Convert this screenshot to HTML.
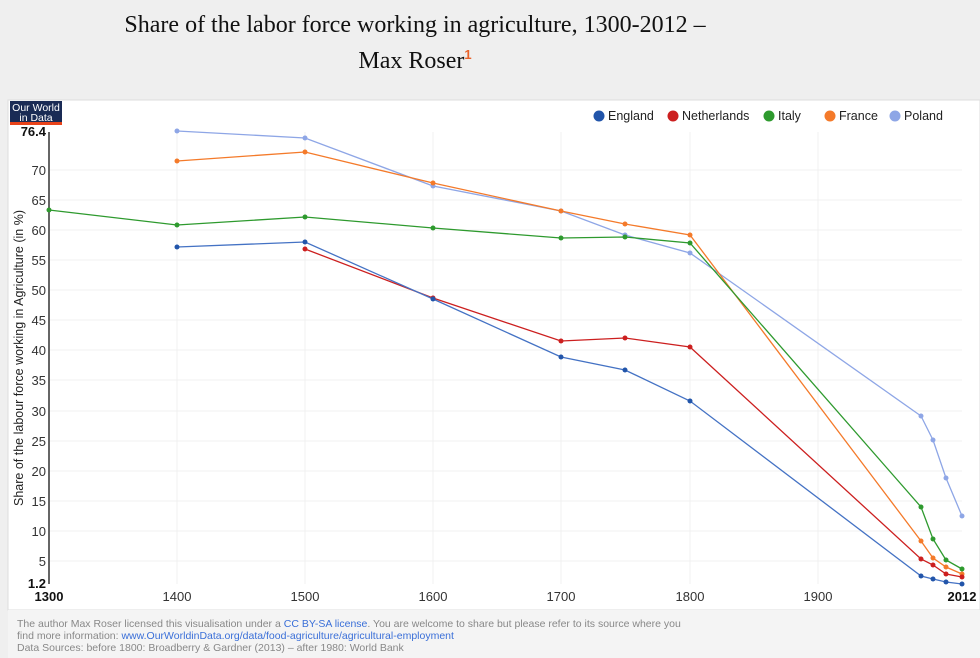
<!DOCTYPE html>
<html><head><meta charset="utf-8"><style>
body{margin:0;width:980px;height:658px;background:#efefef;font-family:"Liberation Sans",sans-serif;overflow:hidden;position:relative}
.t{position:absolute;top:11px;left:0;width:830px;text-align:center;font-family:"Liberation Serif",serif;font-size:24px;line-height:29px;color:#111}
.t sup{color:#e8622a;font-size:13px;font-family:"Liberation Sans",sans-serif;font-weight:bold}
</style></head><body>
<div class="t">Share of the labor force working in agriculture, 1300-2012 –<br>Max Roser<sup>1</sup></div>
<svg width="980" height="658" style="position:absolute;left:0;top:0" font-family="Liberation Sans, sans-serif">
<rect x="8" y="100" width="972" height="510" fill="#fff" stroke="#ddd"/>
<rect x="8" y="610" width="972" height="48" fill="#f4f4f4"/>
<rect x="10" y="101" width="52" height="23" fill="#1a2b55"/>
<rect x="10" y="122" width="52" height="3" fill="#e8431a"/>
<text x="36" y="111" fill="#fff" font-size="10.5" text-anchor="middle">Our World</text>
<text x="36" y="121" fill="#fff" font-size="10.5" text-anchor="middle">in Data</text>
<g stroke="#f0f0f0">
<line x1="177" y1="132" x2="177" y2="584"/><line x1="305" y1="132" x2="305" y2="584"/><line x1="433" y1="132" x2="433" y2="584"/><line x1="561" y1="132" x2="561" y2="584"/><line x1="690" y1="132" x2="690" y2="584"/><line x1="818" y1="132" x2="818" y2="584"/>
<line x1="49" y1="170" x2="962" y2="170"/><line x1="49" y1="200" x2="962" y2="200"/><line x1="49" y1="230" x2="962" y2="230"/><line x1="49" y1="260" x2="962" y2="260"/><line x1="49" y1="290" x2="962" y2="290"/><line x1="49" y1="320" x2="962" y2="320"/><line x1="49" y1="350" x2="962" y2="350"/><line x1="49" y1="380" x2="962" y2="380"/><line x1="49" y1="411" x2="962" y2="411"/><line x1="49" y1="441" x2="962" y2="441"/><line x1="49" y1="471" x2="962" y2="471"/><line x1="49" y1="501" x2="962" y2="501"/><line x1="49" y1="531" x2="962" y2="531"/><line x1="49" y1="561" x2="962" y2="561"/>
</g>
<line x1="49" y1="132" x2="49" y2="584" stroke="#666" stroke-width="2"/>
<g font-size="13" fill="#333" text-anchor="end">
<text x="46" y="136" font-weight="bold" fill="#111">76.4</text>
<text x="46" y="175">70</text><text x="46" y="205">65</text><text x="46" y="235">60</text><text x="46" y="265">55</text><text x="46" y="295">50</text><text x="46" y="325">45</text><text x="46" y="355">40</text><text x="46" y="385">35</text><text x="46" y="416">30</text><text x="46" y="446">25</text><text x="46" y="476">20</text><text x="46" y="506">15</text><text x="46" y="536">10</text><text x="46" y="566">5</text>
<text x="46" y="588" font-weight="bold" fill="#111">1.2</text>
</g>
<g font-size="13" fill="#333" text-anchor="middle">
<text x="49" y="601" font-weight="bold" fill="#111">1300</text><text x="177" y="601">1400</text><text x="305" y="601">1500</text><text x="433" y="601">1600</text><text x="561" y="601">1700</text><text x="690" y="601">1800</text><text x="818" y="601">1900</text><text x="962" y="601" font-weight="bold" fill="#111">2012</text>
</g>
<text transform="translate(23,358) rotate(-90)" font-size="12.5" fill="#222" text-anchor="middle">Share of the labour force working in Agriculture (in %)</text>
<g font-size="12.5" fill="#222">
<circle cx="599" cy="116" r="5.5" fill="#2255aa"/><text x="608" y="120">England</text>
<circle cx="673" cy="116" r="5.5" fill="#cc1f1f"/><text x="682" y="120">Netherlands</text>
<circle cx="769" cy="116" r="5.5" fill="#2e9a2e"/><text x="778" y="120">Italy</text>
<circle cx="830" cy="116" r="5.5" fill="#f47a2a"/><text x="839" y="120">France</text>
<circle cx="895" cy="116" r="5.5" fill="#8ea6e6"/><text x="904" y="120">Poland</text>
</g>
<g fill="none" stroke-width="1.3">
<polyline stroke="#8ea6e6" points="177,131 305,138 433,186 561,211 625,235 690,253 921,416 933,440 946,478 962,516"/>
<polyline stroke="#f47a2a" points="177,161 305,152 433,183 561,211 625,224 690,235 921,541 933,558 946,567 962,574"/>
<polyline stroke="#2e9a2e" points="49,210 177,225 305,217 433,228 561,238 625,237 690,243 921,507 933,539 946,560 962,569"/>
<polyline stroke="#cc1f1f" points="305,249 433,298 561,341 625,338 690,347 921,559 933,565 946,574 962,577"/>
<polyline stroke="#4472c4" points="177,247 305,242 433,299 561,357 625,370 690,401 921,576 933,579 946,582 962,584"/>
</g>
<g fill="#8ea6e6"><circle cx="177" cy="131" r="2.5"/><circle cx="305" cy="138" r="2.5"/><circle cx="433" cy="186" r="2.5"/><circle cx="561" cy="211" r="2.5"/><circle cx="625" cy="235" r="2.5"/><circle cx="690" cy="253" r="2.5"/><circle cx="921" cy="416" r="2.5"/><circle cx="933" cy="440" r="2.5"/><circle cx="946" cy="478" r="2.5"/><circle cx="962" cy="516" r="2.5"/></g>
<g fill="#f47a2a"><circle cx="177" cy="161" r="2.5"/><circle cx="305" cy="152" r="2.5"/><circle cx="433" cy="183" r="2.5"/><circle cx="561" cy="211" r="2.5"/><circle cx="625" cy="224" r="2.5"/><circle cx="690" cy="235" r="2.5"/><circle cx="921" cy="541" r="2.5"/><circle cx="933" cy="558" r="2.5"/><circle cx="946" cy="567" r="2.5"/><circle cx="962" cy="574" r="2.5"/></g>
<g fill="#2e9a2e"><circle cx="49" cy="210" r="2.5"/><circle cx="177" cy="225" r="2.5"/><circle cx="305" cy="217" r="2.5"/><circle cx="433" cy="228" r="2.5"/><circle cx="561" cy="238" r="2.5"/><circle cx="625" cy="237" r="2.5"/><circle cx="690" cy="243" r="2.5"/><circle cx="921" cy="507" r="2.5"/><circle cx="933" cy="539" r="2.5"/><circle cx="946" cy="560" r="2.5"/><circle cx="962" cy="569" r="2.5"/></g>
<g fill="#cc1f1f"><circle cx="305" cy="249" r="2.5"/><circle cx="433" cy="298" r="2.5"/><circle cx="561" cy="341" r="2.5"/><circle cx="625" cy="338" r="2.5"/><circle cx="690" cy="347" r="2.5"/><circle cx="921" cy="559" r="2.5"/><circle cx="933" cy="565" r="2.5"/><circle cx="946" cy="574" r="2.5"/><circle cx="962" cy="577" r="2.5"/></g>
<g fill="#2255aa"><circle cx="177" cy="247" r="2.5"/><circle cx="305" cy="242" r="2.5"/><circle cx="433" cy="299" r="2.5"/><circle cx="561" cy="357" r="2.5"/><circle cx="625" cy="370" r="2.5"/><circle cx="690" cy="401" r="2.5"/><circle cx="921" cy="576" r="2.5"/><circle cx="933" cy="579" r="2.5"/><circle cx="946" cy="582" r="2.5"/><circle cx="962" cy="584" r="2.5"/></g>
<g font-size="10.5" fill="#888">
<text x="17" y="627">The author Max Roser licensed this visualisation under a <tspan fill="#3a6fd8">CC BY-SA license</tspan>. You are welcome to share but please refer to its source where you</text>
<text x="17" y="639">find more information:  <tspan fill="#3a6fd8">www.OurWorldinData.org/data/food-agriculture/agricultural-employment</tspan></text>
<text x="17" y="651">Data Sources: before 1800: Broadberry &amp; Gardner (2013) – after 1980: World Bank</text>
</g>
</svg>
</body></html>
